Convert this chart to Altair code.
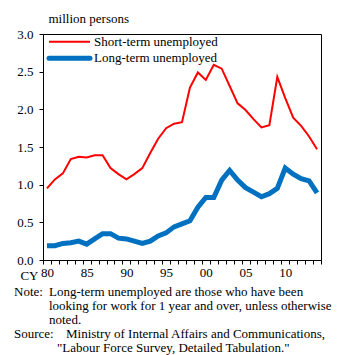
import altair as alt
import pandas as pd

years = list(range(1980, 2015))
short_term = [0.95, 1.07, 1.15, 1.34, 1.37, 1.36, 1.39, 1.39, 1.22, 1.14,
              1.07, 1.14, 1.22, 1.42, 1.61, 1.75, 1.81, 1.83, 2.29, 2.49,
              2.39, 2.59, 2.54, 2.31, 2.08, 1.99, 1.87, 1.76, 1.79, 2.43,
              2.15, 1.89, 1.78, 1.64, 1.47]
long_term = [0.19, 0.19, 0.22, 0.23, 0.25, 0.21, 0.28, 0.35, 0.35, 0.29,
             0.28, 0.25, 0.22, 0.25, 0.32, 0.36, 0.44, 0.48, 0.52, 0.70,
             0.83, 0.83, 1.06, 1.19, 1.06, 0.96, 0.90, 0.84, 0.88, 0.95,
             1.22, 1.14, 1.08, 1.05, 0.89]
series_names = ["Short-term unemployed", "Long-term unemployed"]
series_colors = ["#ff0000", "#0070c0"]
series_widths = [2, 5]
y_ticks = [0.0, 0.5, 1.0, 1.5, 2.0, 2.5, 3.0]
note_lines = [
    ("Note:", "Long-term unemployed are those who have been"),
    ("", "looking for work for 1 year and over, unless otherwise"),
    ("", "noted."),
    ("Source:", "Ministry of Internal Affairs and  Communications,"),
    ("", "\"Labour Force Survey, Detailed Tabulation.\""),
]

rows = []
for i, y in enumerate(years):
    rows.append({"year": y, "value": short_term[i], "series": series_names[0]})
    rows.append({"year": y, "value": long_term[i], "series": series_names[1]})
df = pd.DataFrame(rows)

FONT = "Liberation Serif"
W, H = 278, 226

x_enc = alt.X(
    "year:O",
    bandPosition=0.5,
    scale=alt.Scale(type="band", paddingInner=0, paddingOuter=0),
    axis=alt.Axis(
        title="CY", titleAngle=0, titleX=-5, titleY=9, titleAlign="right",
        titleBaseline="top", titleFont=FONT, titleFontSize=13,
        titleFontWeight="normal", titleColor="black",
        labelExpr="datum.value % 5 == 0 ? slice(toString(datum.value), 2) : ''",
        labelAngle=0, labelFont=FONT, labelFontSize=13, labelColor="black",
        labelPadding=2, tickBand="extent", tickSize=4, tickColor="black",
        domainColor="black", grid=False, labelOverlap=False,
    ),
)
y_enc = alt.Y(
    "value:Q",
    scale=alt.Scale(domain=[0, 3], nice=False),
    axis=alt.Axis(
        values=y_ticks, format=".1f", title="million persons", titleAngle=0,
        titleX=5, titleY=-16, titleAlign="left", titleBaseline="middle",
        titleFont=FONT, titleFontSize=13, titleFontWeight="normal",
        titleColor="black", labelFont=FONT, labelFontSize=13,
        labelColor="black", labelPadding=6, tickSize=4, tickColor="black",
        domainColor="black", grid=False,
    ),
)

lines = alt.Chart(df).mark_line().encode(
    x=x_enc,
    y=y_enc,
    color=alt.Color("series:N", scale=alt.Scale(domain=series_names, range=series_colors), legend=None),
    strokeWidth=alt.StrokeWidth("series:N", scale=alt.Scale(domain=series_names, range=series_widths), legend=None),
)

layers = [lines]
# legend drawn inside the plot
for i, name in enumerate(series_names):
    ly = 7.7 + i * 16.6
    leg_df = pd.DataFrame({"label": [name]})
    layers.append(
        alt.Chart(leg_df).mark_rule(color=series_colors[i], strokeWidth=series_widths[i], strokeCap="round" if i == 1 else "butt").encode(
            x=alt.value(6), x2=alt.value(47), y=alt.value(ly)
        )
    )
    layers.append(
        alt.Chart(leg_df).mark_text(align="left", baseline="middle", font=FONT, fontSize=13, color="black").encode(
            x=alt.value(51), y=alt.value(ly), text="label:N"
        )
    )

# notes below
for i, (head, body) in enumerate(note_lines):
    ty = 258 + i * 14
    if head:
        layers.append(
            alt.Chart(pd.DataFrame({"t": [head]})).mark_text(align="left", baseline="middle", font=FONT, fontSize=13, color="black").encode(
                x=alt.value(-29), y=alt.value(ty), text="t:N"
            )
        )
    bx = 6 if i < 3 else (23 if i == 3 else 14)
    layers.append(
        alt.Chart(pd.DataFrame({"t": [body]})).mark_text(align="left", baseline="middle", font=FONT, fontSize=13, color="black").encode(
            x=alt.value(bx), y=alt.value(ty), text="t:N"
        )
    )

chart = alt.layer(*layers).properties(
    width=W, height=H,
    autosize=alt.AutoSizeParams(type="none"),
    padding={"left": 43, "top": 34, "right": 354 - 43 - W, "bottom": 355 - 34 - H},
    background="white",
).configure_view(stroke="black", strokeWidth=1)

chart.save("out.html", embed_options={"renderer": "svg", "actions": False})
